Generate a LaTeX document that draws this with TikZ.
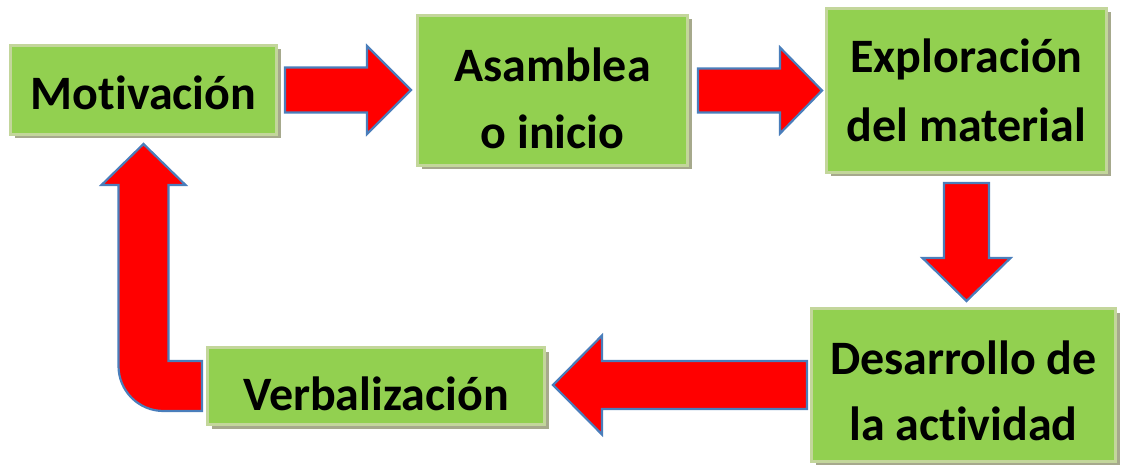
\documentclass[tikz,border=0pt]{standalone}
\usepackage{fontspec}
\setmainfont{Carlito}[Ligatures=NoCommon]
\usepackage{tikz}
\usetikzlibrary{calc,shadows}
\usepackage{xcolor}

\definecolor{boxgreen}{HTML}{92D050}
\definecolor{boxedge}{HTML}{C3D69B}
\definecolor{boxshadow}{HTML}{A6A98C}
\definecolor{arrred}{HTML}{FF0000}
\definecolor{arredge}{HTML}{4A7EBB}

% block arrow: start, angle, length, shaft half width, head half width, head length
\newcommand{\blockarrow}[6]{%
  \draw[barrow, shift={(#1)}, rotate=#2]
    (0,-#4) -- (#3-#6,-#4) -- (#3-#6,-#5) -- (#3,0) -- (#3-#6,#5) -- (#3-#6,#4) -- (0,#4) -- cycle;}

\begin{document}
\begin{tikzpicture}[
    x=1pt, y=1pt,
    gbox/.style={
        draw=boxedge, line width=3pt, fill=boxgreen, align=center, inner sep=0pt,
        font=\fontsize{48}{66}\selectfont\bfseries, text=black,
        drop shadow={shadow xshift=4pt, shadow yshift=-4pt, fill=boxshadow, opacity=1}
    },
    barrow/.style={draw=arredge, line width=2.2pt, fill=arrred, line join=miter}
]
\useasboundingbox (0,0) rectangle (1121,464);

% Step boxes
\node[gbox, minimum width=266pt, minimum height=89pt, text height=40pt, text depth=0pt]
    (mot) at (143.5,374) {Motivación};
\node[gbox, minimum width=270pt, minimum height=150pt, text height=115pt, text depth=0pt]
    (asa) at (552.5,373.5) {Asamblea\\o inicio};
\node[gbox, minimum width=280pt, minimum height=164pt, text height=103pt, text depth=0pt]
    (exp) at (966.5,373.5) {Exploración\\[3pt]del material};
\node[gbox, minimum width=304pt, minimum height=153pt, text height=110pt, text depth=0pt]
    (des) at (963.5,79) {Desarrollo de\\la actividad};
\node[gbox, minimum width=337pt, minimum height=77pt, text height=48pt, text depth=0pt]
    (ver) at (376,78) {Verbalización};

% Straight block arrows
\blockarrow{$(mot.east)+(7,0)$}{0}{126}{22.5}{44}{44}
\blockarrow{$(asa.east)+(9,0)$}{0}{124}{22}{43}{42}
\blockarrow{$(exp.south)+(0,-9)$}{-90}{118}{22.5}{44}{43}
\blockarrow{$(des.west)+(-3,0)$}{180}{254}{24}{49.5}{49}

% Bent arrow back to the start
\coordinate (bend) at (mot.south |- ver.west);
\draw[barrow]
    ($(ver.west)+(-4,25)$) -- ($(bend)+(25,25)$) -- ($(mot.south)+(25,-49)$)
    -- ($(mot.south)+(42,-49)$) -- ($(mot.south)+(0,-8)$) -- ($(mot.south)+(-42,-49)$)
    -- ($(mot.south)+(-25,-49)$) [rounded corners=45pt] -- ($(bend)+(-25,-25)$)
    [sharp corners] -- ($(ver.west)+(-4,-25)$) -- cycle;

\end{tikzpicture}
\end{document}
